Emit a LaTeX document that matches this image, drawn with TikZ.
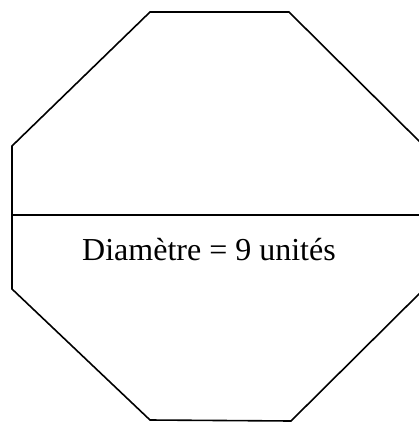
\documentclass[tikz,border=0pt]{standalone}
\usepackage{fontspec}
\setmainfont{Liberation Serif}
\usetikzlibrary{positioning, calc}

\begin{document}
\begin{tikzpicture}[x=1pt, y=-1pt, line width=1.6pt, every node/.style={font=\fontsize{32}{38}\selectfont}]
    \useasboundingbox (0,0) rectangle (419,424);
    \clip (0,0) rectangle (419,424);
    % octagon corners
    \coordinate (v1) at (150,12);
    \coordinate (v2) at (289,12);
    \coordinate (v3) at (424,146);
    \coordinate (v4) at (424,289);
    \coordinate (v5) at (291,421);
    \coordinate (v6) at (150,420);
    \coordinate (v7) at (12,289);
    \coordinate (v8) at (12,146);

    \draw (v1)--(v2)--(v3)--(v4)--(v5)--(v6)--(v7)--(v8)--cycle;

    % diameter
    \coordinate (d1) at (12,215);
    \coordinate (d2) at (430,215);
    \draw (d1)--(d2);
    \node[anchor=base, inner sep=0pt] (lbl) at (209,260) {Diamètre = 9 unités};
\end{tikzpicture}
\end{document}
